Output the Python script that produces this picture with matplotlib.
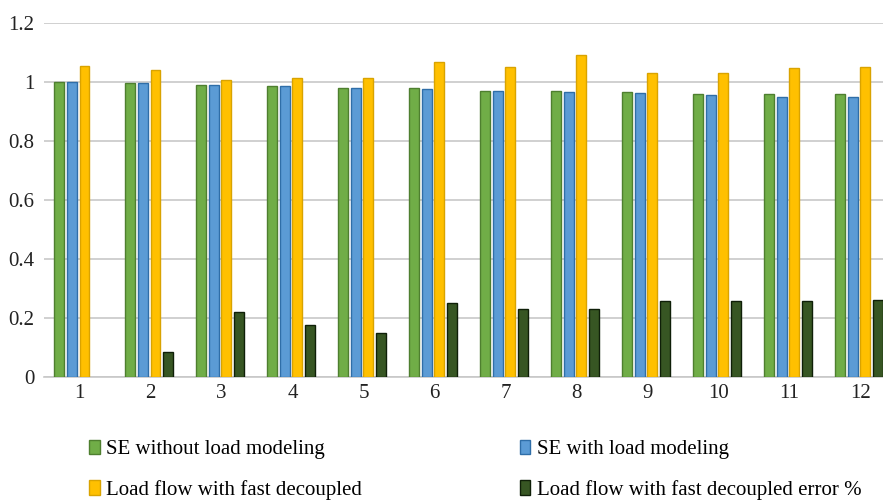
import numpy as np
import matplotlib.pyplot as plt
from matplotlib.patches import Patch

plt.rcParams['font.family'] = ['Liberation Serif', 'DejaVu Serif']

cases = ['1', '2', '3', '4', '5', '6', '7', '8', '9', '10', '11', '12']
se_without = [1.0, 0.995, 0.99, 0.985, 0.98, 0.98, 0.97, 0.97, 0.965, 0.961, 0.961, 0.961]
se_with = [1.0, 0.995, 0.99, 0.985, 0.98, 0.975, 0.97, 0.965, 0.962, 0.955, 0.95, 0.95]
fast_dec = [1.055, 1.042, 1.008, 1.012, 1.013, 1.068, 1.05, 1.09, 1.032, 1.032, 1.046, 1.052]
fast_dec_err = [0.0, 0.086, 0.219, 0.175, 0.148, 0.25, 0.229, 0.229, 0.258, 0.258, 0.258, 0.262]

series = [
    ('SE without load modeling', se_without, '#70AD47', '#4E7F2F'),
    ('SE with load modeling', se_with, '#5B9BD5', '#2F6EA8'),
    ('Load flow with fast decoupled', fast_dec, '#FFC000', '#D9A300'),
    ('Load flow with fast decoupled error %', fast_dec_err, '#375623', '#0F1F08'),
]

fig = plt.figure(figsize=(8.83, 5.04), dpi=100)
ax = fig.add_axes([44 / 883, 127 / 504, 852 / 883, 354 / 504])

x = np.arange(len(cases))
pitch = 0.18
width = 0.14
for i, (name, vals, fc, ec) in enumerate(series):
    # no outline on empty bars
    edges = [ec if v > 0 else 'none' for v in vals]
    ax.bar(x + (i - 1.5) * pitch - 0.02, vals, width, color=fc, edgecolor=edges,
           linewidth=1.0, zorder=3)

ax.set_xlim(-0.5, len(cases) - 0.5)
ax.set_ylim(0, 1.2)
ax.set_yticks([0, 0.2, 0.4, 0.6, 0.8, 1.0, 1.2])
ax.set_yticklabels(['0', '0.2', '0.4', '0.6', '0.8', '1', '1.2'])
ax.set_xticks(x)
ax.set_xticklabels(cases)
ax.tick_params(axis='both', length=0, labelsize=15, colors='#222222')
ax.tick_params(axis='y', pad=7)
ax.tick_params(axis='x', pad=5)
ax.grid(axis='y', color='#C8C8C8', linewidth=1.2, zorder=0)
for side in ['top', 'right', 'left']:
    ax.spines[side].set_visible(False)
ax.spines['bottom'].set_color('#C8C8C8')
ax.spines['bottom'].set_linewidth(1.2)

handles = [Patch(facecolor=s[2], edgecolor=s[3], label=s[0]) for s in series]
order = [0, 2, 1, 3]
fig.legend([handles[k] for k in order], [series[k][0] for k in order],
           ncol=2, loc='lower left', bbox_to_anchor=(85 / 883, 0.0),
           borderaxespad=0, borderpad=0.2,
           frameon=False, fontsize=15, handlelength=0.5, handleheight=0.7,
           handletextpad=0.3, columnspacing=7.6, labelspacing=1.0)

fig.savefig('out.png', dpi=100)
